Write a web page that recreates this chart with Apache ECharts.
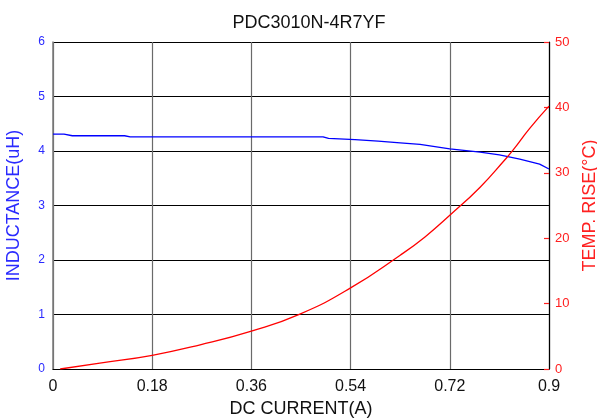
<!DOCTYPE html>
<html>
<head>
<meta charset="utf-8">
<script src="https://cdn.jsdelivr.net/npm/echarts@6/dist/echarts.min.js"></script>
<style>html,body{margin:0;padding:0;background:#fff}#c{width:597px;height:420px}</style>
</head>
<body>
<div id="c"></div>
<script>
var xTicks = [0, 0.18, 0.36, 0.54, 0.72, 0.9];
var indCurrent = [0, 0.02, 0.035, 0.13, 0.14, 0.49, 0.5, 0.548, 0.59, 0.63, 0.666, 0.72, 0.775, 0.81, 0.847, 0.883, 0.9];
var indValues  = [4.31, 4.31, 4.28, 4.28, 4.26, 4.26, 4.23, 4.21, 4.18, 4.15, 4.12, 4.04, 3.98, 3.93, 3.85, 3.76, 3.67];
var tempCurrent = [0.013, 0.085, 0.18, 0.267, 0.36, 0.448, 0.54, 0.63, 0.675, 0.72, 0.775, 0.82, 0.835, 0.865, 0.9];
var tempValues  = [0, 0.9, 2.1, 3.7, 5.8, 8.4, 12.4, 17.4, 20.2, 23.5, 27.8, 32.0, 33.5, 36.8, 40.2];

function pairs(xs, ys) { return xs.map(function (x, i) { return [x, ys[i]]; }); }

var chart = echarts.init(document.getElementById('c'));
chart.setOption({
  animation: false,
  title: {
    text: 'PDC3010N-4R7YF', left: 304, top: 9, textAlign: 'center',
    textStyle: { fontFamily: 'Liberation Sans', fontSize: 18, fontWeight: 'normal', color: '#111' }
  },
  grid: { left: 53, right: 48, top: 42, bottom: 51, containLabel: false, outerBoundsMode: 'none' },
  xAxis: {
    type: 'value', min: 0, max: 0.9, interval: 0.18,
    name: 'DC CURRENT(A)', nameLocation: 'middle', nameGap: 31,
    nameTextStyle: { fontFamily: 'Liberation Sans', fontSize: 18, color: '#111' },
    axisLine: { lineStyle: { color: '#000', width: 1.2 } },
    axisTick: { show: false },
    axisLabel: {
      fontFamily: 'Liberation Sans', fontSize: 16, color: '#111', margin: 10,
      formatter: function (v) { var t = xTicks.find(function (k) { return Math.abs(k - v) < 1e-6; }); return t === undefined ? '' : String(t); }
    },
    splitLine: { show: true, lineStyle: { color: '#6a6a6a', width: 1.2 } }
  },
  yAxis: [{
    type: 'value', min: 0, max: 6, interval: 1, position: 'left',
    name: 'INDUCTANCE(uH)', nameLocation: 'middle', nameGap: 30,
    nameTextStyle: { fontFamily: 'Liberation Sans', fontSize: 18, color: '#2a2aff' },
    axisLine: { show: true, lineStyle: { color: '#7a7a7a', width: 1.5 } },
    axisTick: { show: false },
    axisLabel: { fontFamily: 'Liberation Sans', fontSize: 12, color: '#2a2aff', margin: 8 },
    splitLine: { show: true, lineStyle: { color: '#000', width: 1.2 } }
  }, {
    type: 'value', min: 0, max: 50, interval: 10, position: 'right',
    name: 'TEMP. RISE(°C)', nameLocation: 'middle', nameGap: 32,
    nameTextStyle: { fontFamily: 'Liberation Sans', fontSize: 18, color: '#ff2020' },
    axisLine: { show: true, lineStyle: { color: '#000', width: 1.2 } },
    axisTick: { show: true, inside: true, length: 5, lineStyle: { color: '#ff2020', width: 1.2 } },
    axisLabel: { fontFamily: 'Liberation Sans', fontSize: 13, color: '#ff2020', margin: 6 },
    splitLine: { show: false }
  }],
  series: [{
    type: 'line', yAxisIndex: 0, data: pairs(indCurrent, indValues),
    showSymbol: false, smooth: false, lineStyle: { color: '#0000ff', width: 1.3 }
  }, {
    type: 'line', yAxisIndex: 1, data: pairs(tempCurrent, tempValues),
    showSymbol: false, smooth: true, lineStyle: { color: '#ff0000', width: 1.3 }
  }]
});
</script>
</body>
</html>
